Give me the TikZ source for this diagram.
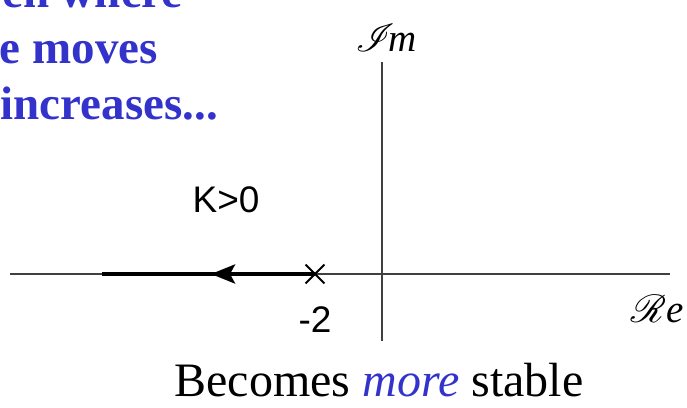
\documentclass[tikz,border=0pt]{standalone}
\usepackage{fontspec}
\usepackage{mathrsfs}
\setmainfont{Liberation Serif}
\newfontfamily\helv{Liberation Sans}
\usepackage{xcolor}
\usetikzlibrary{positioning,arrows.meta,shapes.misc}

\definecolor{slideblue}{RGB}{51,51,204}

\begin{document}
\begin{tikzpicture}[
    x=1pt, y=-1pt,
    axis/.style={
        draw=black!75,
        line width=1.3pt
    },
    locus/.style={
        line width=4pt
    },
    pole/.style={
        cross out,
        draw,
        line width=1.8pt,
        minimum size=17pt,
        inner sep=0pt
    },
    note/.style={
        font=\fontsize{47}{56}\selectfont\bfseries,
        text=slideblue,
        inner sep=0pt,
        anchor=base east
    },
    lbl/.style={
        font=\helv\fontsize{37}{40}\selectfont,
        inner sep=0pt,
        anchor=base
    }
]
\useasboundingbox (0,0) rectangle (687,407);
\clip (0,0) rectangle (687,407);

% blue text cut by the frame
\node[note] (n1) at (183,7) {en where};
\node[note] (n2) at (158,63) {e moves};
\node[note] (n3) at (218,119) {increases...};

% axes
\coordinate (xl) at (10,274);
\coordinate (xr) at (670,274);
\coordinate (yt) at (382,62);
\coordinate (yb) at (382,341);
\draw[axis] (xl) -- (xr);
\draw[axis] (yt) -- (yb);

\node[inner sep=0pt, anchor=base] (im) at (386,51)
{\scalebox{3.9}{$\mathscr{I}\!\mathit{m}$}};
\node[inner sep=0pt, anchor=base] (re) at (657,322)
{\scalebox{3.9}{$\mathscr{R}\mathit{e}$}};

% root locus
\node[pole] (p) at (315,274) {};
\coordinate (lend) at (102,274);
\coordinate (tip) at (211,274);
\draw[locus] (p.center) -- (lend);
\draw[locus, -{Stealth[length=24pt,width=19pt,inset=5pt]}] (p.center) -- (tip);

\node[lbl] (k) at (226,212) {K>0};
\node[lbl] (m2) at (315,332) {-2};

\node[inner sep=0pt, anchor=base, font=\fontsize{48}{52}\selectfont] (cap) at (379,396)
{Becomes \textcolor{slideblue}{\textit{more}} stable};

\end{tikzpicture}
\end{document}
